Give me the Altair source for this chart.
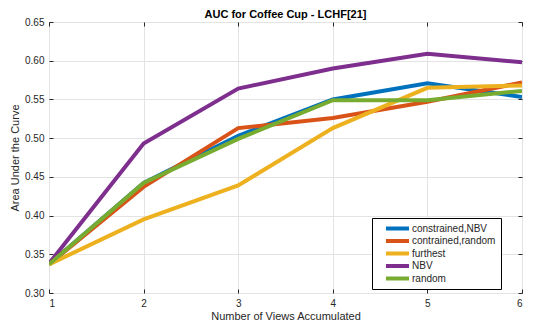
import altair as alt
import pandas as pd

views = [1, 2, 3, 4, 5, 6]
y_ticks = [0.3, 0.35, 0.4, 0.45, 0.5, 0.55, 0.6, 0.65]
series_names = ["constrained,NBV", "contrained,random", "furthest", "NBV", "random"]
constrained_nbv = [0.337, 0.442, 0.503, 0.550, 0.571, 0.553]
contrained_random = [0.337, 0.437, 0.513, 0.526, 0.547, 0.572]
furthest = [0.337, 0.395, 0.439, 0.513, 0.565, 0.568]
nbv = [0.338, 0.493, 0.564, 0.590, 0.609, 0.598]
random_ = [0.337, 0.442, 0.499, 0.549, 0.549, 0.561]
colors = ["#0072BD", "#D95319", "#EDB120", "#7E2F8E", "#77AC30"]

rows = []
for name, vals in zip(series_names, [constrained_nbv, contrained_random, furthest, nbv, random_]):
    for x, y in zip(views, vals):
        rows.append({"views": x, "auc": y, "series": name})
df = pd.DataFrame(rows)

FONT = "Liberation Sans"
DARK = "#262626"
xscale = alt.Scale(domain=[1, 6], nice=False)
yscale = alt.Scale(domain=[0.3, 0.65], nice=False, zero=False)

main = alt.Chart(df).mark_line(strokeWidth=4, clip=True).encode(
    x=alt.X("views:Q", scale=xscale,
            axis=alt.Axis(title="Number of Views Accumulated", values=views, format="d",
                          grid=True, gridColor="#e3e3e3", tickSize=4, offset=-4,
                          tickColor=DARK, labelPadding=5, domain=False, titlePadding=2)),
    y=alt.Y("auc:Q", scale=yscale,
            axis=alt.Axis(title="Area Under the Curve", values=y_ticks,
                          grid=True, gridColor="#e3e3e3", tickSize=4, offset=-4,
                          tickColor=DARK, labelPadding=5, domain=False, titlePadding=4)),
    color=alt.Color("series:N", sort=series_names,
                    scale=alt.Scale(domain=series_names, range=colors),
                    legend=alt.Legend(title=None, orient="none", legendX=323, legendY=196,
                                      symbolType="M-3.3,0H3.3", symbolStrokeWidth=4, symbolSize=49,
                                      strokeColor="#000000", fillColor="#ffffff", padding=5,
                                      labelFontSize=10, labelFont=FONT, labelColor=DARK,
                                      labelExpr="datum.label + '\u2007\u2007\u2007'",
                                      clipHeight=11, rowPadding=1.5, labelOffset=9, symbolOffset=15)),
    order=alt.Order("views:Q"),
)

frame = alt.Chart(df).mark_line(opacity=0).encode(
    x=alt.X("views:Q", scale=xscale,
            axis=alt.Axis(orient="top", title=None, values=views, labels=False, grid=False,
                          tickSize=4, offset=-4, tickColor=DARK, domain=False)),
    y=alt.Y("auc:Q", scale=yscale,
            axis=alt.Axis(orient="right", title=None, values=y_ticks, labels=False, grid=False,
                          tickSize=4, offset=-4, tickColor=DARK, domain=False)),
    detail="series:N",
)

chart = alt.layer(main, frame).resolve_axis(x="independent", y="independent").properties(
    width=473, height=271,
    title=alt.TitleParams("AUC for Coffee Cup - LCHF[21]", fontSize=11, font=FONT,
                          fontWeight="bold", color="#000000", offset=-3),
    autosize=alt.AutoSizeParams(type="none"),
    padding={"left": 41, "top": 14, "right": 3, "bottom": 30},
).configure_view(
    stroke=DARK, strokeWidth=1
).configure_axis(
    labelFont=FONT, titleFont=FONT, labelFontSize=10, titleFontSize=11,
    labelColor=DARK, titleColor=DARK, titleFontWeight="normal"
)

chart.save("out.html", embed_options={"renderer": "svg", "actions": False})
